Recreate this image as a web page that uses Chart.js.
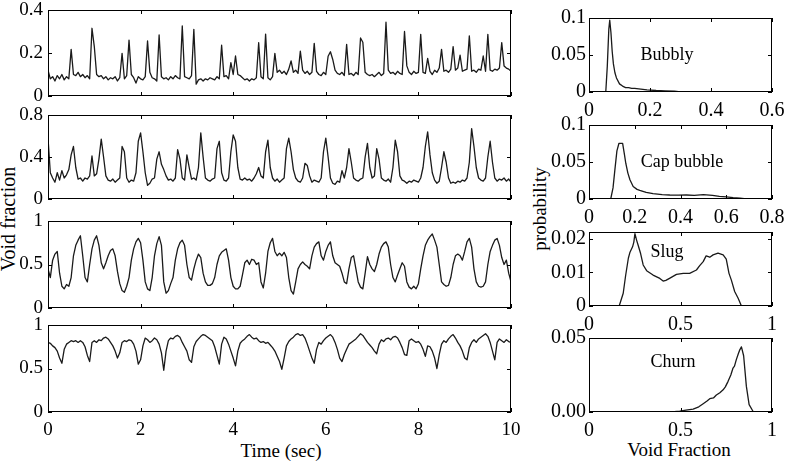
<!DOCTYPE html>
<html>
<head>
<meta charset="utf-8">
<script src="https://cdn.jsdelivr.net/npm/chart.js@4.4.1/dist/chart.umd.min.js"></script>
<style>
  body { margin: 0; background: #fff; }
  #fig { position: relative; width: 785px; height: 464px; overflow: hidden; font-family: "Liberation Serif", "Times New Roman", serif; color: #000; }
  #fig canvas { position: absolute; }
  .lbl { position: absolute; font-size: 19px; white-space: nowrap; transform: translate(-50%, -50%); }
  .rot { transform: translate(-50%, -50%) rotate(-90deg); }
</style>
</head>
<body>
<div id="fig">
  <div class="lbl rot" style="left:8px;top:219px;font-size:20px">Void fraction</div>
  <div class="lbl rot" style="left:540px;top:209px">probability</div>
  <div class="lbl" style="left:281px;top:451px">Time (sec)</div>
  <div class="lbl" style="left:679px;top:450px">Void Fraction</div>
</div>
<script>
// void fraction traces, one sample every dt seconds
const dt = 0.05;

const voidBubbly = [
  0.12, 0.08, 0.09, 0.07, 0.095, 0.08, 0.1, 0.075, 0.09, 0.08, 0.217, 0.1, 0.095, 0.11, 0.09, 0.1, 0.085, 0.095, 0.08, 0.315,
  0.23, 0.1, 0.09, 0.095, 0.08, 0.09, 0.075, 0.085, 0.08, 0.09, 0.07, 0.085, 0.198, 0.08, 0.095, 0.26, 0.1, 0.085, 0.06, 0.09,
  0.08, 0.075, 0.09, 0.256, 0.11, 0.085, 0.08, 0.07, 0.284, 0.09, 0.08, 0.085, 0.075, 0.09, 0.08, 0.095, 0.085, 0.08, 0.326, 0.09,
  0.085, 0.08, 0.095, 0.31, 0.055, 0.075, 0.08, 0.07, 0.08, 0.075, 0.085, 0.08, 0.075, 0.09, 0.08, 0.236, 0.09, 0.095, 0.08, 0.155,
  0.1, 0.186, 0.1, 0.095, 0.085, 0.075, 0.08, 0.07, 0.08, 0.075, 0.085, 0.248, 0.09, 0.08, 0.288, 0.085, 0.075, 0.09, 0.198, 0.11,
  0.12, 0.105, 0.115, 0.1, 0.125, 0.163, 0.11, 0.12, 0.105, 0.209, 0.12, 0.105, 0.115, 0.1, 0.11, 0.245, 0.115, 0.1, 0.095, 0.11,
  0.1, 0.185, 0.206, 0.17, 0.12, 0.105, 0.1, 0.11, 0.095, 0.24, 0.1, 0.105, 0.095, 0.11, 0.1, 0.27, 0.25, 0.11, 0.1, 0.095,
  0.1, 0.09, 0.1, 0.11, 0.095, 0.105, 0.343, 0.12, 0.105, 0.11, 0.1, 0.115, 0.105, 0.1, 0.3, 0.14, 0.11, 0.1, 0.115, 0.105,
  0.11, 0.287, 0.11, 0.105, 0.175, 0.115, 0.1, 0.12, 0.11, 0.13, 0.217, 0.115, 0.12, 0.11, 0.125, 0.23, 0.12, 0.13, 0.19, 0.115,
  0.12, 0.125, 0.28, 0.115, 0.12, 0.11, 0.125, 0.12, 0.186, 0.115, 0.287, 0.12, 0.115, 0.125, 0.12, 0.13, 0.248, 0.14, 0.13, 0.125,
  0.115
];

const voidCap = [
  0.58, 0.25, 0.2, 0.16, 0.25, 0.18, 0.27, 0.2, 0.23, 0.28, 0.42, 0.5, 0.3, 0.19, 0.2, 0.17, 0.2, 0.19, 0.22, 0.41,
  0.22, 0.24, 0.38, 0.57, 0.4, 0.22, 0.18, 0.17, 0.19, 0.16, 0.18, 0.2, 0.5, 0.45, 0.2, 0.16, 0.18, 0.17, 0.25, 0.55,
  0.63, 0.45, 0.25, 0.13, 0.15, 0.19, 0.2, 0.38, 0.45, 0.33, 0.28, 0.22, 0.18, 0.19, 0.17, 0.2, 0.47, 0.38, 0.2, 0.18,
  0.42, 0.3, 0.19, 0.2, 0.18, 0.3, 0.63, 0.4, 0.2, 0.18, 0.17, 0.19, 0.2, 0.48, 0.55, 0.25, 0.18, 0.17, 0.2, 0.45,
  0.61, 0.55, 0.3, 0.19, 0.18, 0.2, 0.18, 0.19, 0.17, 0.2, 0.24, 0.3, 0.22, 0.2, 0.45, 0.56, 0.3, 0.2, 0.17, 0.19,
  0.16, 0.18, 0.2, 0.48, 0.58, 0.45, 0.28, 0.2, 0.17, 0.16, 0.2, 0.34, 0.32, 0.22, 0.16, 0.18, 0.17, 0.16, 0.2, 0.45,
  0.58, 0.4, 0.2, 0.15, 0.14, 0.17, 0.16, 0.27, 0.2, 0.3, 0.48, 0.35, 0.2, 0.18, 0.17, 0.19, 0.2, 0.4, 0.53, 0.3,
  0.2, 0.22, 0.48, 0.38, 0.2, 0.18, 0.17, 0.19, 0.16, 0.3, 0.56, 0.45, 0.22, 0.18, 0.17, 0.15, 0.17, 0.16, 0.18, 0.17,
  0.16, 0.2, 0.3, 0.5, 0.64, 0.42, 0.25, 0.18, 0.15, 0.17, 0.3, 0.45, 0.35, 0.2, 0.15, 0.16, 0.15, 0.17, 0.16, 0.18,
  0.17, 0.2, 0.35, 0.67, 0.5, 0.3, 0.2, 0.18, 0.17, 0.2, 0.4, 0.55, 0.35, 0.2, 0.17, 0.19, 0.18, 0.2, 0.17, 0.19,
  0.16
];

const voidSlug = [
  0.45, 0.35, 0.55, 0.62, 0.65, 0.4, 0.25, 0.22, 0.27, 0.25, 0.35, 0.6, 0.72, 0.78, 0.83, 0.6, 0.35, 0.3, 0.5, 0.68,
  0.78, 0.83, 0.72, 0.52, 0.45, 0.52, 0.6, 0.66, 0.68, 0.6, 0.42, 0.28, 0.2, 0.18, 0.25, 0.35, 0.55, 0.68, 0.76, 0.8,
  0.75, 0.55, 0.3, 0.22, 0.2, 0.35, 0.6, 0.74, 0.82, 0.72, 0.3, 0.17, 0.2, 0.28, 0.35, 0.55, 0.68, 0.75, 0.78, 0.72,
  0.5, 0.35, 0.32, 0.45, 0.55, 0.62, 0.58, 0.4, 0.3, 0.26, 0.26, 0.28, 0.35, 0.5, 0.6, 0.64, 0.66, 0.68, 0.55, 0.35,
  0.25, 0.22, 0.22, 0.25, 0.38, 0.52, 0.55, 0.5, 0.56, 0.55, 0.5, 0.52, 0.3, 0.23, 0.4, 0.65, 0.75, 0.8, 0.65, 0.6,
  0.63, 0.6, 0.64, 0.58, 0.35, 0.2, 0.16, 0.3, 0.45, 0.5, 0.53, 0.5, 0.48, 0.45, 0.6, 0.7, 0.74, 0.76, 0.6, 0.55,
  0.65, 0.72, 0.76, 0.6, 0.52, 0.5, 0.48, 0.4, 0.3, 0.28, 0.45, 0.58, 0.6, 0.45, 0.3, 0.24, 0.22, 0.4, 0.59, 0.5,
  0.45, 0.42, 0.5, 0.62, 0.7, 0.74, 0.76, 0.7, 0.5, 0.35, 0.3, 0.38, 0.45, 0.52, 0.48, 0.3, 0.24, 0.22, 0.25, 0.22,
  0.28, 0.45, 0.6, 0.72, 0.78, 0.82, 0.85, 0.78, 0.7, 0.5, 0.3, 0.27, 0.25, 0.26, 0.35, 0.5, 0.6, 0.62, 0.6, 0.55,
  0.65, 0.76, 0.8, 0.7, 0.45, 0.3, 0.25, 0.24, 0.25, 0.3, 0.5, 0.65, 0.72, 0.78, 0.8, 0.72, 0.58, 0.5, 0.55, 0.4,
  0.3
];

const voidChurn = [
  0.8, 0.79, 0.76, 0.74, 0.7, 0.62, 0.56, 0.72, 0.78, 0.8, 0.82, 0.81, 0.82, 0.8, 0.82, 0.8, 0.75, 0.65, 0.58, 0.8,
  0.82, 0.8, 0.83, 0.82, 0.85, 0.86, 0.84, 0.8, 0.76, 0.7, 0.62, 0.68, 0.8, 0.82, 0.81, 0.83, 0.82, 0.78, 0.7, 0.55,
  0.6, 0.76, 0.85, 0.83, 0.8, 0.82, 0.85, 0.83, 0.78, 0.68, 0.48, 0.7, 0.82, 0.85, 0.84, 0.87, 0.88, 0.86, 0.8, 0.75,
  0.7, 0.6, 0.57, 0.75, 0.81, 0.84, 0.87, 0.89, 0.88, 0.86, 0.84, 0.82, 0.75, 0.65, 0.55, 0.78, 0.86, 0.84, 0.78, 0.7,
  0.62, 0.53, 0.7, 0.79, 0.82, 0.84, 0.87, 0.89, 0.86, 0.84, 0.85, 0.82, 0.8, 0.81, 0.79, 0.8, 0.77, 0.74, 0.7, 0.64,
  0.58, 0.49, 0.62, 0.76, 0.81, 0.84, 0.86, 0.89, 0.9, 0.88, 0.89, 0.85, 0.78, 0.7, 0.62, 0.56, 0.72, 0.8, 0.78, 0.82,
  0.85, 0.87, 0.89, 0.86, 0.8, 0.72, 0.62, 0.58, 0.66, 0.72, 0.78, 0.8, 0.82, 0.84, 0.87, 0.9, 0.88, 0.84, 0.8, 0.77,
  0.74, 0.7, 0.67, 0.78, 0.83, 0.81, 0.84, 0.85, 0.83, 0.86, 0.87, 0.85, 0.8, 0.74, 0.66, 0.65, 0.82, 0.84, 0.82, 0.8,
  0.81, 0.78, 0.72, 0.64, 0.76, 0.75, 0.7, 0.62, 0.5, 0.66, 0.78, 0.82, 0.8, 0.84, 0.87, 0.89, 0.85, 0.8, 0.76, 0.7,
  0.62, 0.6, 0.74, 0.8, 0.83, 0.8, 0.84, 0.86, 0.88, 0.9, 0.87, 0.8, 0.7, 0.6, 0.8, 0.84, 0.82, 0.8, 0.83, 0.81,
  0.8
];

// probability density of void fraction
const bubblyX = [0.04, 0.055, 0.06, 0.065, 0.068, 0.072, 0.076, 0.08, 0.085, 0.09, 0.1, 0.11, 0.12, 0.13, 0.14, 0.15, 0.17, 0.19, 0.22, 0.25, 0.28, 0.3];
const bubblyP = [0, 0, 0.035, 0.085, 0.097, 0.08, 0.055, 0.038, 0.026, 0.019, 0.011, 0.008, 0.006, 0.006, 0.005, 0.005, 0.004, 0.003, 0.002, 0.0015, 0.001, 0];

const capX = [0.08, 0.095, 0.105, 0.113, 0.122, 0.131, 0.147, 0.155, 0.161, 0.17, 0.179, 0.193, 0.21, 0.222, 0.25, 0.28, 0.32, 0.353, 0.39, 0.426, 0.46, 0.5, 0.54, 0.57, 0.6, 0.63, 0.66, 0.688, 0.7];
const capP = [0, 0, 0.015, 0.039, 0.065, 0.0753, 0.0753, 0.06, 0.048, 0.035, 0.026, 0.017, 0.013, 0.0117, 0.009, 0.0072, 0.006, 0.0054, 0.0052, 0.0054, 0.005, 0.0058, 0.005, 0.0036, 0.003, 0.0018, 0.001, 0, 0];

const slugX = [0.15, 0.165, 0.187, 0.2, 0.215, 0.224, 0.238, 0.245, 0.251, 0.26, 0.269, 0.282, 0.296, 0.315, 0.35, 0.387, 0.405, 0.42, 0.44, 0.478, 0.515, 0.55, 0.587, 0.605, 0.624, 0.64, 0.66, 0.678, 0.705, 0.733, 0.75, 0.765, 0.778, 0.796, 0.815, 0.833, 0.84];
const slugP = [0, 0, 0.0038, 0.009, 0.0142, 0.016, 0.0176, 0.019, 0.0215, 0.0196, 0.018, 0.0156, 0.0122, 0.0105, 0.0092, 0.0082, 0.0074, 0.0076, 0.0082, 0.0094, 0.0097, 0.0097, 0.0107, 0.012, 0.0132, 0.0149, 0.0145, 0.0152, 0.0157, 0.0152, 0.0139, 0.0097, 0.0077, 0.0043, 0.0023, 0, 0];

const churnX = [0.378, 0.45, 0.496, 0.53, 0.569, 0.6, 0.624, 0.645, 0.66, 0.68, 0.696, 0.715, 0.733, 0.745, 0.76, 0.775, 0.787, 0.795, 0.805, 0.815, 0.824, 0.833, 0.845, 0.86, 0.875, 0.896, 0.905];
const churnP = [0, 0, 0.0005, 0.0012, 0.002, 0.0035, 0.0056, 0.0075, 0.009, 0.0095, 0.0115, 0.013, 0.015, 0.017, 0.0207, 0.025, 0.0297, 0.031, 0.0354, 0.039, 0.042, 0.044, 0.038, 0.0173, 0.005, 0.0005, 0];

// tick values and labels
const timeTicks = [0, 2, 4, 6, 8, 10];
const timeLabels = ['0', '2', '4', '6', '8', '10'];
const bubblyYTicks = [0, 0.2, 0.4], bubblyYLabels = ['0', '0.2', '0.4'];
const capYTicks = [0, 0.4, 0.8], capYLabels = ['0', '0.4', '0.8'];
const unitTicks = [0, 0.5, 1], unitLabels = ['0', '0.5', '1'];
const pdfBubblyXTicks = [0, 0.2, 0.4, 0.6], pdfBubblyXLabels = ['0', '0.2', '0.4', '0.6'];
const pdfCapXTicks = [0, 0.2, 0.4, 0.6, 0.8], pdfCapXLabels = ['0', '0.2', '0.4', '0.6', '0.8'];
const pdfTenthTicks = [0, 0.05, 0.1], pdfTenthLabels = ['0', '0.05', '0.1'];
const pdfSlugYTicks = [0, 0.01, 0.02], pdfSlugYLabels = ['0', '0.01', '0.02'];
const pdfChurnYTicks = [0, 0.05], pdfChurnYLabels = ['0.00', '0.05'];

Chart.defaults.font.family = '"Liberation Serif", "Times New Roman", serif';
Chart.defaults.font.size = 19;
Chart.defaults.color = '#000';

const fig = document.getElementById('fig');

// box outline, inward ticks on all four sides, and an optional text label
const frame = {
  id: 'frame',
  afterDatasetsDraw(chart, args, opts) {
    const { ctx, chartArea: a, scales: { x, y } } = chart;
    ctx.save();
    ctx.strokeStyle = '#000';
    ctx.lineWidth = 1;
    ctx.strokeRect(a.left + 0.5, a.top + 0.5, a.width - 1, a.height - 1);
    ctx.beginPath();
    x.ticks.forEach(t => {
      const px = Math.round(x.getPixelForValue(t.value)) + 0.5;
      ctx.moveTo(px, a.bottom); ctx.lineTo(px, a.bottom - 4);
      ctx.moveTo(px, a.top); ctx.lineTo(px, a.top + 4);
    });
    y.ticks.forEach(t => {
      const py = Math.round(y.getPixelForValue(t.value)) + 0.5;
      ctx.moveTo(a.left, py); ctx.lineTo(a.left + 4, py);
      ctx.moveTo(a.right, py); ctx.lineTo(a.right - 4, py);
    });
    ctx.stroke();
    if (opts.label) {
      ctx.fillStyle = '#000';
      ctx.font = '18px "Liberation Serif", serif';
      ctx.textAlign = 'center';
      ctx.textBaseline = 'middle';
      ctx.fillText(opts.label.text, x.getPixelForValue(opts.label.x), y.getPixelForValue(opts.label.y));
    }
    ctx.restore();
  }
};

function axis(max, ticks, labels, size, showLabels, pad, fontSize) {
  return {
    type: 'linear',
    min: 0,
    max: max,
    grid: { display: false, drawTicks: false },
    border: { display: false },
    ticks: {
      display: showLabels, padding: pad, autoSkip: false, maxRotation: 0,
      font: { size: fontSize, lineHeight: 1 },
      callback: (v, i) => labels[i]
    },
    afterBuildTicks: s => { s.ticks = ticks.map(v => ({ value: v })); },
    afterFit: s => { if (s.isHorizontal()) s.height = size; else s.width = size; }
  };
}

function panel(left, top, width, height, padB, padR, xs, ys, xScale, yScale, label) {
  const c = document.createElement('canvas');
  c.width = width;
  c.height = height;
  c.style.left = left + 'px';
  c.style.top = top + 'px';
  fig.appendChild(c);
  return new Chart(c, {
    type: 'line',
    data: {
      datasets: [{
        data: xs.map((x, i) => ({ x: x, y: ys[i] })),
        borderColor: '#1a1a1a',
        borderWidth: 1.3,
        borderJoinStyle: 'round',
        pointRadius: 0,
        tension: 0
      }]
    },
    options: {
      responsive: false,
      animation: false,
      events: [],
      layout: { padding: { top: 20, right: padR, bottom: padB, left: 0 } },
      scales: { x: xScale, y: yScale },
      plugins: { legend: { display: false }, tooltip: { enabled: false }, frame: { label: label } }
    },
    plugins: [frame]
  });
}

const sampleTime = voidBubbly.map((_, i) => i * dt);

// left column: time traces
panel(0, -10, 530, 126, 20, 19, sampleTime, voidBubbly,
  axis(10, timeTicks, timeLabels, 0, false, 0, 19), axis(0.4, bubblyYTicks, bubblyYLabels, 48, true, 5, 19));
panel(0, 95, 530, 124, 20, 19, sampleTime, voidCap,
  axis(10, timeTicks, timeLabels, 0, false, 0, 19), axis(0.8, capYTicks, capYLabels, 48, true, 5, 19));
panel(0, 201, 530, 127, 20, 19, sampleTime, voidSlug,
  axis(10, timeTicks, timeLabels, 0, false, 0, 19), axis(1, unitTicks, unitLabels, 48, true, 5, 19));
panel(0, 305, 530, 133, 0, 19, sampleTime, voidChurn,
  axis(10, timeTicks, timeLabels, 26, true, 9, 19), axis(1, unitTicks, unitLabels, 48, true, 5, 19));

// right column: probability density
panel(541, -2, 253, 120, 0, 22, bubblyX, bubblyP,
  axis(0.6, pdfBubblyXTicks, pdfBubblyXLabels, 26, true, 9, 20), axis(0.1, pdfTenthTicks, pdfTenthLabels, 48, true, 3, 20),
  { text: 'Bubbly', x: 0.256, y: 0.05 });
panel(541, 105, 253, 120, 0, 22, capX, capP,
  axis(0.8, pdfCapXTicks, pdfCapXLabels, 26, true, 9, 20), axis(0.1, pdfTenthTicks, pdfTenthLabels, 48, true, 3, 20),
  { text: 'Cap bubble', x: 0.407, y: 0.05 });
panel(541, 212, 253, 120, 0, 22, slugX, slugP,
  axis(1, unitTicks, unitLabels, 26, true, 9, 20), axis(0.022, pdfSlugYTicks, pdfSlugYLabels, 48, true, 3, 20),
  { text: 'Slug', x: 0.426, y: 0.016 });
panel(541, 318, 253, 120, 0, 22, churnX, churnP,
  axis(1, unitTicks, unitLabels, 26, true, 9, 20), axis(0.05, pdfChurnYTicks, pdfChurnYLabels, 48, true, 3, 20),
  { text: 'Churn', x: 0.459, y: 0.0338 });
</script>
</body>
</html>
